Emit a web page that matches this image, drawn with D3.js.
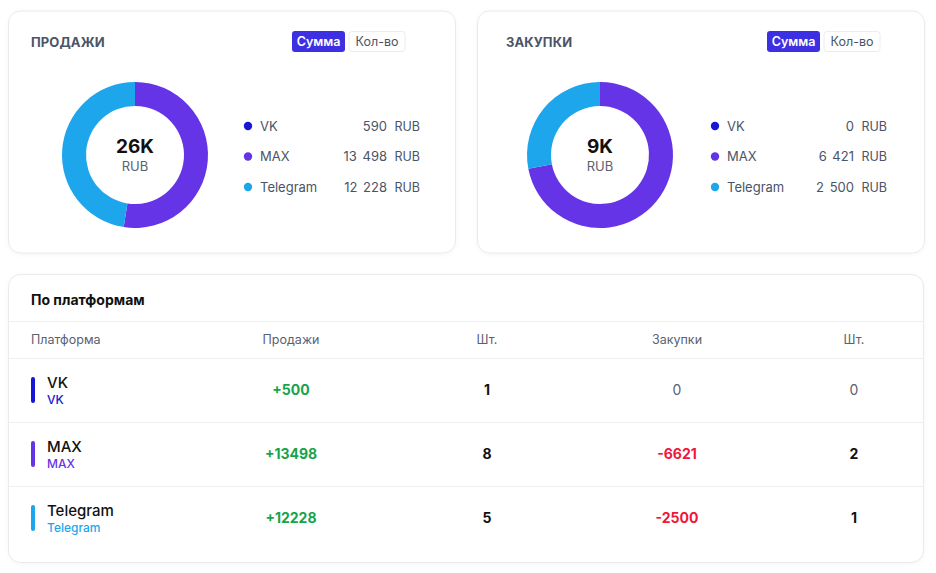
<!DOCTYPE html>
<html>
<head>
<meta charset="utf-8">
<script src="https://cdn.jsdelivr.net/npm/d3@7"></script>
<style>
  body { margin: 0; background: #fff; font-family: Inter, "Noto Sans", sans-serif; }
  text { font-family: Inter, "Noto Sans", sans-serif; }
</style>
</head>
<body>
<svg id="chart" width="936" height="573"></svg>
<script>
// data
var platforms = ["VK", "MAX", "Telegram"];
var colors = { "VK": "#1616d4", "MAX": "#6534e6", "Telegram": "#1ea6ec" };

var salesLegend = [590, 13498, 12228];
var purchLegend = [0, 6421, 2500];
// what the rings show
var salesRing = [{ name: "MAX", v: 13498 }, { name: "Telegram", v: 12228 }];
var purchRing = [{ name: "MAX", v: 6421 }, { name: "Telegram", v: 2500 }];

var tblSales = ["+500", "+13498", "+12228"];
var tblSalesQty = [1, 8, 5];
var tblPurch = ["0", "-6621", "-2500"];
var tblPurchQty = [0, 2, 1];

var headers = ["Платформа", "Продажи", "Шт.", "Закупки", "Шт."];

var svg = d3.select("#chart");

var defs = svg.append("defs");
var f = defs.append("filter").attr("id", "sh").attr("x", "-5%").attr("y", "-5%").attr("width", "110%").attr("height", "110%");
f.append("feDropShadow").attr("dx", 0).attr("dy", 1).attr("stdDeviation", 2).attr("flood-color", "#000").attr("flood-opacity", 0.04);

function card(x, y, w, h) {
    svg.append("rect")
        .attr("x", x).attr("y", y).attr("width", w).attr("height", h)
        .attr("rx", 12)
        .attr("fill", "#fff")
        .attr("stroke", "#e9e9ee")
        .attr("filter", "url(#sh)");
}

var fmt = function (n) { return d3.format(",")(n).replace(/,/g, " ") };

// hx = shift for header (title, toggle), bx = ring, lx = legend
function donutPanel(cx, hx, bx, lx, title, ring, legend, total) {
    card(cx, 11, 447, 242);

    var h = svg.append("g").attr("transform", "translate(" + hx + ",0)");
    h.append("text").text(title)
        .attr("x", 31).attr("y", 47)
        .style("font-size", "13px").style("font-weight", 700)
        .style("fill", "#4a5466").style("letter-spacing", "0.1px");

    // toggle
    h.append("rect").attr("x", 292).attr("y", 31).attr("width", 53).attr("height", 21)
        .attr("rx", 3).attr("fill", "#3d2fe2");
    h.append("text").text("Сумма").attr("x", 318.5).attr("y", 46)
        .attr("text-anchor", "middle").style("font-size", "12.5px").style("font-weight", 600).style("fill", "#fff");
    h.append("rect").attr("x", 349).attr("y", 31.5).attr("width", 56).attr("height", 20)
        .attr("rx", 3).attr("fill", "#fff").attr("stroke", "#ececf0");
    h.append("text").text("Кол-во").attr("x", 377).attr("y", 46)
        .attr("text-anchor", "middle").style("font-size", "12.5px").style("font-weight", 400).style("fill", "#4a5466");

    // ring
    var pie = d3.pie().sort(null).value(function (d) { return d.v });
    var arc = d3.arc().innerRadius(49).outerRadius(73);
    var rg = svg.append("g").attr("transform", "translate(" + (135 + bx) + ",155)");
    rg.selectAll("path")
        .data(pie(ring))
        .enter()
        .append("path")
        .attr("d", arc)
        .attr("fill", function (d) { return colors[d.data.name] });

    rg.append("text").text(total).attr("y", -2)
        .attr("text-anchor", "middle").style("font-size", "19px").style("font-weight", 700).style("fill", "#111");
    rg.append("text").text("RUB").attr("y", 16)
        .attr("text-anchor", "middle").style("font-size", "13px").style("fill", "#5a6272");

    // legend
    var g = svg.append("g").attr("transform", "translate(" + lx + ",0)");
    var ly = d3.scalePoint().domain(platforms).range([126, 187]);
    var lg = g.selectAll("g.leg")
        .data(platforms)
        .enter()
        .append("g")
        .attr("transform", function (d) { return "translate(0," + ly(d) + ")" });
    lg.append("circle").attr("cx", 248).attr("r", 4.2).attr("fill", function (d) { return colors[d] });
    lg.append("text").text(function (d) { return d }).attr("x", 260).attr("y", 4.5)
        .style("font-size", "13px").style("fill", "#4a5466");
    lg.append("text").text(function (d, i) { return fmt(legend[i]) }).attr("x", 387).attr("y", 4.5)
        .attr("text-anchor", "end").style("font-size", "13px").style("fill", "#4a5466").style("word-spacing", "2px");
    lg.append("text").text("RUB").attr("x", 420).attr("y", 4.5)
        .attr("text-anchor", "end").style("font-size", "12.5px").style("fill", "#4a5466");
}

donutPanel(8.5, 0, 0, 0, "ПРОДАЖИ", salesRing, salesLegend, "26K");
donutPanel(477.5, 475, 465, 467, "ЗАКУПКИ", purchRing, purchLegend, "9K");

// table
card(8.5, 274.5, 915, 288);
svg.append("text").text("По платформам").attr("x", 31).attr("y", 305)
    .style("font-size", "14px").style("font-weight", 700).style("fill", "#111");

svg.append("line").attr("x1", 8).attr("x2", 924).attr("y1", 321.5).attr("y2", 321.5).attr("stroke", "#eeeef2");
svg.append("line").attr("x1", 8).attr("x2", 924).attr("y1", 358.5).attr("y2", 358.5).attr("stroke", "#eeeef2");

var colX = d3.scaleOrdinal().domain(d3.range(5)).range([31, 291, 487, 677, 854]);

svg.selectAll("text.hd")
    .data(headers)
    .enter()
    .append("text")
    .attr("class", "hd")
    .text(function (d) { return d })
    .attr("x", function (d, i) { return colX(i) })
    .attr("y", 344)
    .attr("text-anchor", function (d, i) { return i == 0 ? "start" : "middle" })
    .style("font-size", "12.5px").style("fill", "#5a6272");

var rowY = d3.scaleBand().domain(platforms).range([358, 550]);

var rows = svg.selectAll("g.row")
    .data(platforms)
    .enter()
    .append("g")
    .attr("transform", function (d) { return "translate(0," + (rowY(d) + rowY.bandwidth() / 2) + ")" });

rows.filter(function (d, i) { return i > 0 })
    .append("line").attr("x1", 8).attr("x2", 924).attr("y1", -rowY.bandwidth() / 2 + 0.5).attr("y2", -rowY.bandwidth() / 2 + 0.5)
    .attr("stroke", "#eeeef2");

rows.append("rect").attr("x", 31).attr("y", -13).attr("width", 4).attr("height", 26).attr("rx", 2)
    .attr("fill", function (d) { return colors[d] });
rows.append("text").text(function (d) { return d }).attr("x", 47).attr("y", -2)
    .style("font-size", "15px").style("font-weight", 500).style("fill", "#111");
rows.append("text").text(function (d) { return d }).attr("x", 47).attr("y", 14)
    .style("font-size", "12px").style("font-weight", 500).style("fill", function (d) { return colors[d] });

rows.append("text").text(function (d, i) { return tblSales[i] }).attr("x", colX(1)).attr("y", 5)
    .attr("text-anchor", "middle").style("font-size", "14px").style("font-weight", 700).style("fill", "#17a34a");
rows.append("text").text(function (d, i) { return tblSalesQty[i] }).attr("x", colX(2)).attr("y", 5)
    .attr("text-anchor", "middle").style("font-size", "14px").style("font-weight", 700).style("fill", "#111");
rows.append("text").text(function (d, i) { return tblPurch[i] }).attr("x", colX(3)).attr("y", 5)
    .attr("text-anchor", "middle").style("font-size", "14px")
    .style("font-weight", function (d, i) { return tblPurch[i] == "0" ? 400 : 700 })
    .style("fill", function (d, i) { return tblPurch[i] == "0" ? "#5a6272" : "#ef1739" });
rows.append("text").text(function (d, i) { return tblPurchQty[i] }).attr("x", colX(4)).attr("y", 5)
    .attr("text-anchor", "middle").style("font-size", "14px")
    .style("font-weight", function (d, i) { return tblPurchQty[i] == 0 ? 400 : 700 })
    .style("fill", function (d, i) { return tblPurchQty[i] == 0 ? "#5a6272" : "#111" });
</script>
</body>
</html>
